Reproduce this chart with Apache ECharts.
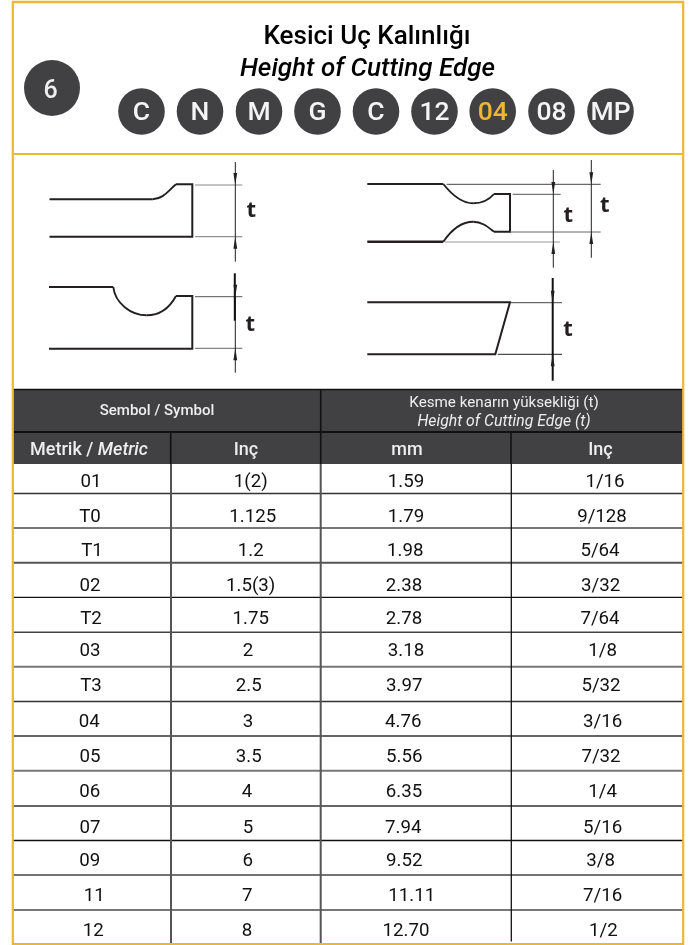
<!DOCTYPE html>
<html><head><meta charset="utf-8">
<style>html,body{margin:0;padding:0;background:#fff}#c{width:692px;height:945px}</style>
<script src="https://cdn.jsdelivr.net/npm/echarts@6/dist/echarts.min.js"></script>
</head><body><div id="c"></div>
<script>
// ---- content ----
const titleTr = 'Kesici Uç Kalınlığı';
const titleEn = 'Height of Cutting Edge';
const stepNumber = '6';
const codeParts = ['C','N','M','G','C','12','04','08','MP'];
const highlightedPart = '04';
const metricSymbols = ['01','T0','T1','02','T2','03','T3','04','05','06','07','09','11','12'];
const inchSymbols = ['1(2)','1.125','1.2','1.5(3)','1.75','2','2.5','3','3.5','4','5','6','7','8'];
const heightMm = ['1.59','1.79','1.98','2.38','2.78','3.18','3.97','4.76','5.56','6.35','7.94','9.52','11.11','12.70'];
const heightInch = ['1/16','9/128','5/64','3/32','7/64','1/8','5/32','3/16','7/32','1/4','5/16','3/8','7/16','1/2'];

// ---- layout (sheet units, axes run 0..692 and 0..945) ----
const rowCentres = [480.5,515.5,549.8,584.8,618,649.8,684.5,720.5,755.5,790.5,826.5,859.8,894.5,929.5];
const col1Centres = [91,90,92,90,91,90,91,89.3,90,89.7,90,89.7,94.3,93.3];
const col2Centres = [250.7,252.7,250.7,250.7,250.7,248,248.7,248,248.7,247,248,247.7,247.3,247];
const col3Centres = [406,406,405.3,404,404,406,404.3,403.3,404.3,404,403.3,404.3,411.7,406];
const col4Centres = [605,602,600,600.7,600,602.7,601,602.7,601,602.7,602.7,600.7,602.7,603.3];
const rowRules = [[493.5,'#333',1.5],[528,'#777',2],[562.8,'#555',2],[597.3,'#111',1.2],[632.3,'#444',1.5],[666.8,'#777',2],[701.5,'#333',1.5],[736,'#333',1.5],[770.8,'#777',2],[806,'#666',2],[840.4,'#111',1.5],[875,'#444',1.5],[910,'#777',2]];
const partCentres = [141.5,200,259,317.5,376,434.5,492.7,551.5,610.5];

const GOLD = '#EDB733', DARK = '#414042', INK = '#231F20';
const FONT = 'Roboto';
const TEXT_DROP = 1.6;
const font = (size, style, weight) => `${style||'normal'} ${weight||'normal'} ${size}px ${FONT}`;

// ---- element primitives expressed in sheet units ----
const S = [];
const rect = (x,y,w,h,fill) => S.push({k:'rect',x,y,w,h,fill});
const line = (x1,y1,x2,y2,stroke,lw) => S.push({k:'line',x1,y1,x2,y2,stroke,lw});
const poly = (pts,lw) => S.push({k:'poly',pts,lw:lw||2,stroke:INK});
const bez = (a,b,c,d,lw) => S.push({k:'bez',a,b,c,d,lw:lw||1.9,stroke:INK});
const disc = (x,y,r,fill) => S.push({k:'disc',x,y,r,fill});
const label = (x,y,text,size,fill,style,weight,rich) => S.push({k:'text',x,y,text,size,fill,style,weight,rich});
const arrow = (x,tipY,dir) => S.push({k:'tri',pts:[[x,tipY],[x-1.9,tipY-dir*12],[x+1.9,tipY-dir*12]]});

// header panel
disc(52,88,28,DARK);
label(50.5,90,stepNumber,25,'#eeeeee',null,500);
label(367,36,titleTr,26,'#000',null,500);
label(367.5,67.5,titleEn,26,'#000','italic',500);
codeParts.forEach((p,i)=>{
  disc(partCentres[i],111.5,23.3,DARK);
  label(partCentres[i],111.5,p,26.5,p===highlightedPart?GOLD:'#f4f4f4',null,500);
});

// profile 1
poly([[49.5,199.3],[152.7,199.3]]);
bez([152.7,199.3],[163,199],[168,191],[176,184.3]);
poly([[176,184.3],[192.3,184.3],[192.3,236.7],[49.5,236.7]]);
line(195,185,242.3,185,'#888',1);
line(195,236.7,242.3,236.7,'#777',1);
line(235.3,162,235.3,261.7,INK,1);
arrow(235.3,185,1); arrow(235.3,236.7,-1);
// profile 2
poly([[49,287],[113.3,287]]);
bez([113.3,287],[115,303],[131,315.3],[146.7,315.3]);
bez([146.7,315.3],[160,315.3],[170,307],[176,296]);
poly([[176,296],[192.3,296],[192.3,348.7],[49,348.7]]);
line(195,296.7,242.3,296.7,'#555',1);
line(195,348.3,242.3,348.3,'#666',1);
line(235.3,296,235.3,372.7,INK,1);
line(234.8,273.3,234.8,320.7,'#111',2);
arrow(235.3,296.7,1); arrow(235.3,348.3,-1);
// profile 3
poly([[367.3,184],[443.3,184]],2.2);
bez([443.3,184],[452,195],[462,203.3],[473.3,203.3]);
bez([473.3,203.3],[482,203.3],[488,201],[494,194]);
poly([[494,194],[510,194],[510,231.7],[494,231.7]]);
bez([494,231.7],[488,227],[482,221.7],[473.3,221.7]);
bez([473.3,221.7],[462,221.7],[452,229],[443.3,241.7]);
poly([[443.3,241.7],[367.3,241.7]],2.4);
line(446.7,184.3,600.7,184.3,'#444',1);
line(512.7,194.3,560.7,194.3,'#555',1);
line(510,232,600.7,232,'#666',1);
line(445,242,560,242,'#999',1);
line(553.3,170,553.3,267.7,INK,1);
line(591.3,160,591.3,257.7,INK,1);
arrow(553.3,194,1); arrow(553.3,242,-1);
arrow(591.3,184.3,1); arrow(591.3,232,-1);
// profile 4
poly([[367.3,302.3],[510,302.3],[495.3,354.3],[367.3,354.3]]);
line(510.7,302.7,562,302.7,'#444',1);
line(497.7,354.3,562,354.3,'#222',1);
line(552.7,278,552.7,380.7,'#111',2);
arrow(552.7,302.7,1); arrow(552.7,354.3,-1);
// t marks
[[251.3,211],[250.3,325],[568.3,216],[604.7,206],[568,330]].forEach(p=>S.push({k:'mark',x:p[0],y:p[1]}));

// table head
rect(13,389,670,75,DARK);
line(13,389.6,683,389.6,'#111',1.5);
line(13,432,683,432,'#111',1.8);
line(320.7,389,320.7,464,'#111',1.6);
line(170.7,432,170.7,464,'#111',1.6);
line(511,432,511,464,'#111',1.6);
label(157,410,'Sembol / Symbol',15,'#eeeeee',null,500);
label(504,402,'Kesme kenarın yüksekliği (t)',15.2,'#eeeeee');
label(504,420.5,'Height of Cutting Edge (t)',15.8,'#eeeeee','italic');
label(89,448.7,'{a|Metrik / }{b|Metric}',18,'#eeeeee',null,null,true);
label(246,448.5,'Inç',18,'#eeeeee',null,500);
label(407,448.5,'mm',18,'#eeeeee',null,500);
label(600.5,448.5,'Inç',18,'#eeeeee',null,500);

// table body
rowRules.forEach(r=>line(13,r[0],683,r[0],r[1],r[2]));
line(171,464,171,944,'#555',2);
line(320.7,464,320.7,944,'#555',2);
line(511.3,464,511.3,941.5,'#111',1.3);
[[metricSymbols,col1Centres],[inchSymbols,col2Centres],[heightMm,col3Centres],[heightInch,col4Centres]].forEach(([vals,xs])=>{
  vals.forEach((v,i)=>label(xs[i],rowCentres[i],v,18.7,'#111'));
});

// frame
line(12,2,684,2,GOLD,2.6);
line(12,154,684,154,GOLD,2.2);
line(12,944,684,944,GOLD,2.2);
line(12.8,1,12.8,945,GOLD,2.2);
line(683.2,1,683.2,945,GOLD,2.2);

function renderShape(params, api){
  const d = S[params.dataIndex];
  const P = (x,y) => api.coord([x,y]);
  switch(d.k){
    case 'rect': { const a=P(d.x,d.y), b=P(d.x+d.w,d.y+d.h);
      return {type:'rect',shape:{x:a[0],y:a[1],width:b[0]-a[0],height:b[1]-a[1]},style:{fill:d.fill}}; }
    case 'line': { const a=P(d.x1,d.y1), b=P(d.x2,d.y2);
      return {type:'line',shape:{x1:a[0],y1:a[1],x2:b[0],y2:b[1]},style:{stroke:d.stroke,lineWidth:d.lw}}; }
    case 'poly':
      return {type:'polyline',shape:{points:d.pts.map(p=>P(p[0],p[1]))},style:{stroke:d.stroke,lineWidth:d.lw,fill:null,lineJoin:'miter'}};
    case 'bez': { const a=P(...d.a),b=P(...d.b),c=P(...d.c),e=P(...d.d);
      return {type:'bezierCurve',shape:{x1:a[0],y1:a[1],cpx1:b[0],cpy1:b[1],cpx2:c[0],cpy2:c[1],x2:e[0],y2:e[1]},style:{stroke:d.stroke,lineWidth:d.lw,fill:null}}; }
    case 'disc': { const a=P(d.x,d.y);
      return {type:'circle',shape:{cx:a[0],cy:a[1],r:d.r},style:{fill:d.fill}}; }
    case 'tri':
      return {type:'polygon',shape:{points:d.pts.map(p=>P(p[0],p[1]))},style:{fill:INK}};
    case 'mark': { const a=P(d.x,d.y);
      return {type:'text',style:{text:'t',x:a[0],y:a[1],font:'700 22px "Open Sans"',fill:INK,align:'center',verticalAlign:'middle'}}; }
    case 'text': { const a=P(d.x,d.y+TEXT_DROP);
      const st={text:d.text,x:a[0],y:a[1],font:font(d.size,d.style,d.weight),fill:d.fill,align:'center',verticalAlign:'middle'};
      if(d.rich) st.rich={a:{font:font(d.size,null,500),fill:d.fill},b:{font:font(d.size,'italic',500),fill:d.fill}};
      return {type:'text',style:st}; }
  }
}

const chart = echarts.init(document.getElementById('c'),null,{renderer:'canvas',width:692,height:945});
chart.setOption({
  animation:false,
  backgroundColor:'#fff',
  grid:{left:0,right:0,top:0,bottom:0},
  xAxis:{type:'value',min:0,max:692,show:false},
  yAxis:{type:'value',min:0,max:945,inverse:true,show:false},
  series:[{
    name:'sheet',type:'custom',clip:false,silent:true,
    renderItem:renderShape,
    data:S.map((_,i)=>[0,0,i])
  }]
});
</script></body></html>
